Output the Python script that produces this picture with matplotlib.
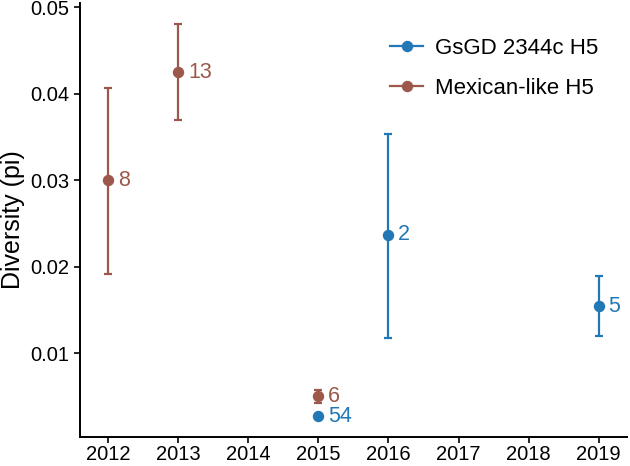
import numpy as np
import matplotlib.pyplot as plt
from matplotlib.lines import Line2D

plt.rcParams['font.family'] = ['Liberation Sans', 'DejaVu Sans']

# Data
years_gs = [2015, 2016, 2019]
pi_gs = [0.0027, 0.0237, 0.0154]
lo_gs = [0.0027, 0.0118, 0.0120]
hi_gs = [0.0027, 0.0353, 0.0189]
n_gs = [54, 2, 5]

years_mx = [2012, 2013, 2015]
pi_mx = [0.0300, 0.0425, 0.0050]
lo_mx = [0.0191, 0.0370, 0.0042]
hi_mx = [0.0407, 0.0480, 0.0058]
n_mx = [8, 13, 6]

blue = '#2178b5'
brown = '#9c594b'

fig = plt.figure(figsize=(6.3, 4.66), dpi=100)
ax = fig.add_axes([0.127, 0.062, 0.868, 0.932])

def draw(years, pi, lo, hi, n, color):
    pi = np.array(pi)
    yerr = [pi - np.array(lo), np.array(hi) - pi]
    ax.errorbar(years, pi, yerr=yerr, fmt='o', color=color, ms=7.2,
                elinewidth=1.6, capsize=2.9, capthick=1.6)
    for x, y, t in zip(years, pi, n):
        ax.annotate(str(t), (x, y), xytext=(7, 0), textcoords='offset points',
                    va='center', ha='left', color=color, fontsize=15.5)

draw(years_gs, pi_gs, lo_gs, hi_gs, n_gs, blue)
draw(years_mx, pi_mx, lo_mx, hi_mx, n_mx, brown)

ax.set_xlim(2011.6, 2019.4)
ax.set_ylim(0.0003, 0.0505)
ax.set_xticks(range(2012, 2020))
ax.set_yticks([0.01, 0.02, 0.03, 0.04, 0.05])
ax.set_yticklabels(['0.01', '0.02', '0.03', '0.04', '0.05'])
ax.tick_params(labelsize=14.5, length=4, width=1.2, colors='black')
ax.tick_params(axis='x', pad=2)
ax.set_ylabel('Diversity (pi)', fontsize=18, labelpad=4)

for s in ['top', 'right']:
    ax.spines[s].set_visible(False)
for s in ['left', 'bottom']:
    ax.spines[s].set_linewidth(1.4)

handles = [Line2D([], [], color=blue, lw=1.6, marker='o', ms=7.2),
           Line2D([], [], color=brown, lw=1.6, marker='o', ms=7.2)]
ax.legend(handles, ['GsGD 2344c H5', 'Mexican-like H5'], loc='upper left',
          bbox_to_anchor=(0.53, 0.965), frameon=False, fontsize=16,
          handlelength=1.5, handletextpad=0.55, labelspacing=0.85)

fig.savefig('out.png', dpi=100)
